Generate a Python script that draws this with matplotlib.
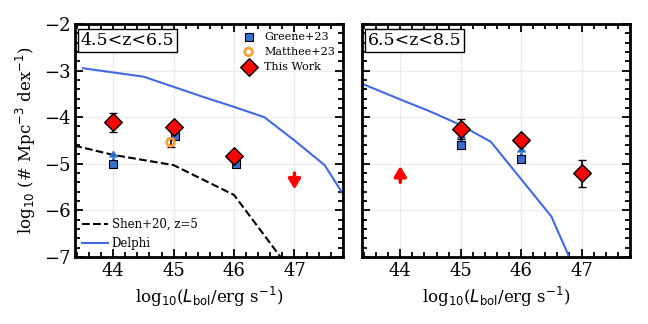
import numpy as np
import matplotlib
matplotlib.use('Agg')
import matplotlib.pyplot as plt
from matplotlib.ticker import MultipleLocator

plt.rcParams['font.family'] = 'DejaVu Serif'
plt.rcParams['mathtext.fontset'] = 'dejavusans'

# ---- data: 4.5<z<6.5 ----
delphi_x1 = [43.5, 44.0, 44.5, 45.0, 45.5, 46.0, 46.5, 47.0, 47.5, 48.0]
delphi_y1 = [-2.95, -3.04, -3.13, -3.35, -3.57, -3.78, -4.0, -4.5, -5.03, -6.05]
shen_x = [43.0, 44.0, 45.0, 46.0, 47.0]
shen_y = [-4.5, -4.81, -5.03, -5.67, -7.4]
greene_x1 = [44.0, 45.03, 46.03]
greene_y1 = [-5.01, -4.40, -5.01]
greene_lim1 = [True, False, True]
matthee_x = [44.95]
matthee_y = [-4.54]
matthee_err = [0.1]
work_x1 = [44.0, 45.0, 46.0]
work_y1 = [-4.11, -4.22, -4.83]
work_err1 = [0.2, 0.1, 0.1]
ulim_x1 = [47.0]
ulim_y1 = [-5.2]

# ---- data: 6.5<z<8.5 ----
delphi_x2 = [43.4, 44.0, 44.5, 45.0, 45.5, 46.0, 46.5, 47.0]
delphi_y2 = [-3.3, -3.62, -3.88, -4.17, -4.53, -5.33, -6.13, -7.6]
greene_x2 = [45.0, 46.0]
greene_y2 = [-4.60, -4.90]
work_x2 = [45.0, 46.0, 47.0]
work_y2 = [-4.25, -4.50, -5.2]
work_err2 = [0.21, 0.12, 0.29]
llim_x2 = [44.0]
llim_y2 = [-5.4]

blue = '#4169e1'
sq_col = '#3a6fd0'

fig = plt.figure(figsize=(6.48, 3.24), dpi=100)
ax1 = fig.add_axes([0.116, 0.207, 0.413, 0.719])
ax2 = fig.add_axes([0.559, 0.207, 0.413, 0.719])


def style(ax):
    ax.set_xlim(43.37, 47.8)
    ax.set_ylim(-7, -2)
    ax.xaxis.set_major_locator(MultipleLocator(1))
    ax.xaxis.set_minor_locator(MultipleLocator(0.2))
    ax.yaxis.set_major_locator(MultipleLocator(1))
    ax.yaxis.set_minor_locator(MultipleLocator(0.2))
    ax.tick_params(which='both', direction='in', top=True, right=True, width=1.3)
    ax.tick_params(which='major', length=6, labelsize=13)
    ax.tick_params(which='minor', length=3.5)
    for s in ax.spines.values():
        s.set_linewidth(2)
    ax.grid(True, color='#ececec', lw=1, zorder=0)
    ax.set_xlabel(r'log$_{10}$($L_{\rm bol}$/erg s$^{-1}$)', fontsize=12)


def limit_arrow(ax, x, y, dy):
    ax.annotate('', xy=(x, y + dy), xytext=(x, y),
                arrowprops=dict(arrowstyle='-|>,head_length=0.5,head_width=0.3',
                                color='red', lw=2.5, mutation_scale=12,
                                shrinkA=0, shrinkB=0), zorder=6)


# left panel
style(ax1)
ax1.plot(shen_x, shen_y, '--', color='k', lw=1.5, label='Shen+20, z=5')
ax1.plot(delphi_x1, delphi_y1, '-', color=blue, lw=1.5, label='Delphi')
leg2 = ax1.legend(loc='lower left', fontsize=8.5, frameon=False, handlelength=2.2,
                  borderaxespad=0.2, handletextpad=0.3)
ax1.add_artist(leg2)

for gx, gy, lim in zip(greene_x1, greene_y1, greene_lim1):
    if lim:
        ax1.errorbar(gx, gy, yerr=0.15, lolims=True, fmt='none', ecolor=blue,
                     elinewidth=2, capsize=0, zorder=4)
    else:
        ax1.errorbar(gx, gy, yerr=0.05, fmt='none', ecolor='k', elinewidth=1.2,
                     capsize=3, zorder=4)
h1 = ax1.scatter(greene_x1, greene_y1, marker='s', s=30, color=sq_col,
                 edgecolor='k', lw=0.8, zorder=5, label='Greene+23')
ax1.errorbar(matthee_x, matthee_y, yerr=matthee_err, fmt='none', ecolor='k',
             elinewidth=1.2, capsize=3, zorder=4)
h2 = ax1.scatter(matthee_x, matthee_y, marker='o', s=30, facecolor='none',
                 edgecolor='#f5a030', lw=2, zorder=5, label='Matthee+23')
ax1.errorbar(work_x1, work_y1, yerr=work_err1, fmt='none', ecolor='k',
             elinewidth=1.2, capsize=3, zorder=5)
h3 = ax1.scatter(work_x1, work_y1, marker='D', s=80, color='red',
                 edgecolor='k', lw=1, zorder=6, label='This Work')
for ux, uy in zip(ulim_x1, ulim_y1):
    limit_arrow(ax1, ux, uy, -0.35)
ax1.legend(handles=[h1, h2, h3], loc='upper right', fontsize=8, frameon=False,
           borderaxespad=0.3, handletextpad=0.4, labelspacing=0.45)
ax1.text(0.02, 0.965, '4.5<z<6.5', transform=ax1.transAxes, fontsize=12.5,
         va='top', ha='left',
         bbox=dict(facecolor='white', edgecolor='k', lw=1, pad=2))
ax1.set_ylabel(r'log$_{10}$ (# Mpc$^{-3}$ dex$^{-1}$)', fontsize=12)

# right panel
style(ax2)
ax2.set_yticklabels([])
ax2.plot(delphi_x2, delphi_y2, '-', color=blue, lw=1.5)
ax2.errorbar(greene_x2, greene_y2, yerr=0.15, lolims=True, fmt='none',
             ecolor=blue, elinewidth=2, capsize=0, zorder=4)
ax2.scatter(greene_x2, greene_y2, marker='s', s=30, color=sq_col,
            edgecolor='k', lw=0.8, zorder=5)
ax2.errorbar(work_x2, work_y2, yerr=work_err2, fmt='none', ecolor='k',
             elinewidth=1.2, capsize=3, zorder=5)
ax2.scatter(work_x2, work_y2, marker='D', s=80, color='red',
            edgecolor='k', lw=1, zorder=6)
for lx, ly in zip(llim_x2, llim_y2):
    limit_arrow(ax2, lx, ly, 0.35)
ax2.text(0.02, 0.965, '6.5<z<8.5', transform=ax2.transAxes, fontsize=12.5,
         va='top', ha='left',
         bbox=dict(facecolor='white', edgecolor='k', lw=1, pad=2))

fig.savefig('out.png', dpi=100)
